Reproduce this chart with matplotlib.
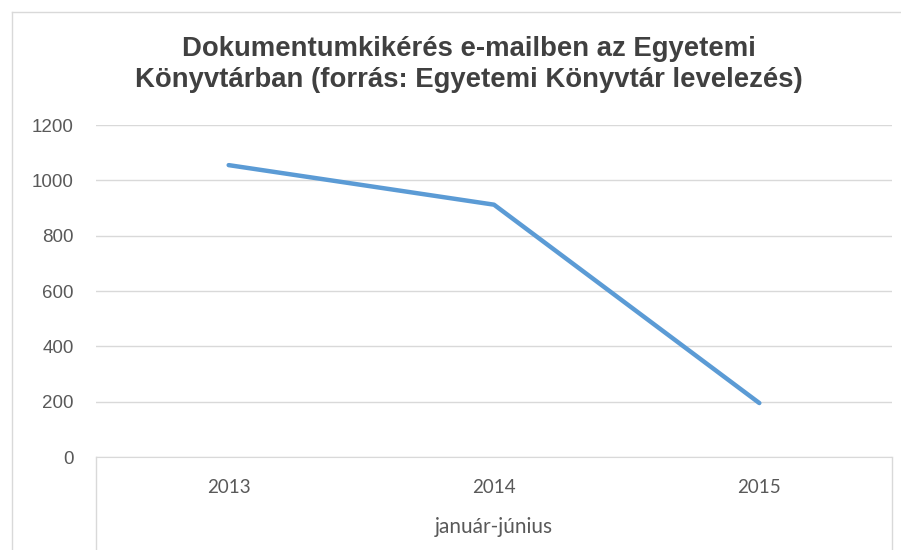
import numpy as np
import matplotlib.pyplot as plt
from matplotlib.lines import Line2D

# data
years = ['2013', '2014', '2015']
requests = [1055, 912, 195]
yticks = [0, 200, 400, 600, 800, 1000, 1200]
title = 'Dokumentumkikérés e-mailben az Egyetemi\nKönyvtárban (forrás: Egyetemi Könyvtár levelezés)'
group_label = 'január-június'

fig = plt.figure(figsize=(9.01, 5.5), dpi=100)
ax = fig.add_axes([96/901, 93/550, 796/901, 332/550])

x = np.arange(len(years))
ax.plot(x, requests, color='#5B9BD5', lw=3.2, solid_capstyle='round', zorder=3)

ax.set_xlim(-0.5, len(years) - 0.5)
ax.set_ylim(0, 1200)
ax.set_yticks(yticks)
ax.set_yticklabels([str(v) for v in yticks], fontsize=13.5, color='#595959',
                   family='Liberation Sans')
ax.set_xticks(x)
ax.set_xticklabels(years, fontsize=13.5, color='#595959', family='Lato')
ax.tick_params(axis='both', length=0)
ax.tick_params(axis='y', pad=16)
ax.tick_params(axis='x', pad=16)
ax.grid(axis='y', color='#D9D9D9', lw=1)
for s in ['top', 'right', 'left']:
    ax.spines[s].set_visible(False)
ax.spines['bottom'].set_color('#D9D9D9')
ax.set_axisbelow(True)

# outer lines of the category group box
for xa in [0, 1]:
    ax.add_line(Line2D([xa, xa], [0, -0.3], transform=ax.transAxes,
                       color='#D9D9D9', lw=1, clip_on=False))
ax.text(0.5, -0.21, group_label, transform=ax.transAxes, ha='center', va='center',
        fontsize=15, color='#595959', family='Lato')

fig.text(0.52, 0.883, title, ha='center', va='center', fontsize=19.8,
         fontweight='bold', color='#404040', family='Liberation Sans', linespacing=1.25)

# chart frame
fig.add_artist(Line2D([12/901, 1], [1 - 12/550, 1 - 12/550], color='#D9D9D9', lw=1))
fig.add_artist(Line2D([12/901, 12/901], [0, 1 - 12/550], color='#D9D9D9', lw=1))

fig.savefig('out.png', dpi=100, facecolor='white')
